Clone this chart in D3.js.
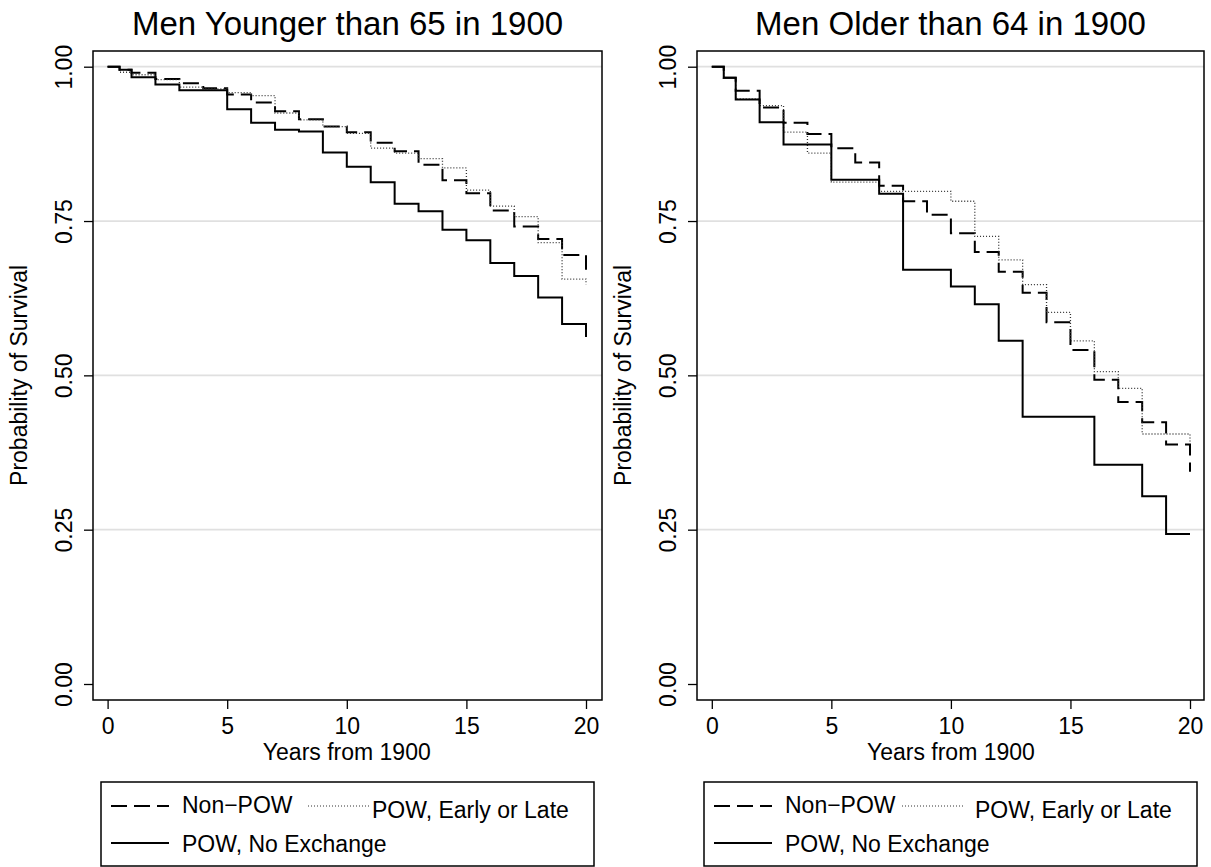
<!DOCTYPE html>
<html>
<head>
<meta charset="utf-8">
<script src="https://cdn.jsdelivr.net/npm/d3@7"></script>
<style>
  body { margin: 0; background: #fff; }
  text { font-family: Arial, "Liberation Sans", Helvetica, sans-serif; fill: #000; }
</style>
</head>
<body>
<div id="container"></div>
<script>
// event times (years from 1900), survival after each time
let years = [0, 0.5, 1, 2, 3, 4, 5, 6, 7, 8, 9, 10, 11, 12, 13, 14, 15, 16, 17, 18, 19, 20];

let youngNonPow       = [1.000, 0.995, 0.990, 0.980, 0.973, 0.965, 0.955, 0.942, 0.928, 0.915, 0.903, 0.894, 0.877, 0.863, 0.841, 0.816, 0.795, 0.767, 0.741, 0.721, 0.695, 0.671];
let youngPowEarlyLate = [1.000, 0.991, 0.987, 0.979, 0.967, 0.964, 0.958, 0.953, 0.925, 0.914, 0.903, 0.892, 0.868, 0.860, 0.851, 0.836, 0.800, 0.774, 0.757, 0.715, 0.656, 0.647];
let youngPowNoExch    = [1.000, 0.995, 0.983, 0.971, 0.962, 0.962, 0.931, 0.909, 0.898, 0.895, 0.861, 0.838, 0.813, 0.778, 0.766, 0.736, 0.719, 0.682, 0.661, 0.626, 0.583, 0.562];

let oldNonPow         = [1.000, 0.982, 0.961, 0.934, 0.909, 0.891, 0.868, 0.845, 0.807, 0.782, 0.760, 0.730, 0.700, 0.668, 0.634, 0.586, 0.541, 0.493, 0.457, 0.424, 0.388, 0.344];
let oldPowEarlyLate   = [1.000, 0.982, 0.948, 0.937, 0.894, 0.860, 0.813, 0.813, 0.798, 0.798, 0.798, 0.782, 0.725, 0.687, 0.647, 0.602, 0.556, 0.506, 0.479, 0.405, 0.405, 0.390];
let oldPowNoExch      = [1.000, 0.982, 0.947, 0.910, 0.874, 0.874, 0.817, 0.817, 0.794, 0.671, 0.671, 0.644, 0.615, 0.556, 0.433, 0.433, 0.433, 0.355, 0.355, 0.304, 0.243, 0.243];

let panelTitles = ["Men Younger than 65 in 1900", "Men Older than 64 in 1900"];
let seriesLabels = ["Non\u2212POW", "POW, Early or Late", "POW, No Exchange"];
let xTicks = [0, 5, 10, 15, 20];
let yTicks = [0, 0.25, 0.5, 0.75, 1];
let xTitle = "Years from 1900";
let yTitle = "Probability of Survival";

let W = 1211, H = 867;
let frameTop = 51, frameBottom = 700;

let svg = d3.select("#container")
            .append("svg")
            .attr("width", W)
            .attr("height", H)
            .style("display", "block")
            .style("background-color", "white");

// non-pow dashed, early/late dotted, no exchange solid
let styles = [
  {stroke: "#000", width: 2, dash: "16,7"},
  {stroke: "#333", width: 1.3, dash: "1,2"},
  {stroke: "#000", width: 2, dash: null}
];

let panels = [
  {title: panelTitles[0], left: 93, right: 602, x0: 107.6, x20: 586,
   series: [youngNonPow, youngPowEarlyLate, youngPowNoExch],
   legend: {x: 101, w: 493, dotX: 308}},
  {title: panelTitles[1], left: 697, right: 1204, x0: 711.8, x20: 1190,
   series: [oldNonPow, oldPowEarlyLate, oldPowNoExch],
   legend: {x: 704, w: 493, dotX: 902}}
];

let yScale = d3.scaleLinear().domain([0, 1]).range([684, 66.7]);

panels.forEach(function(p){
  let xScale = d3.scaleLinear().domain([0, 20]).range([p.x0, p.x20]);
  let g = svg.append("g").attr("class", "panel");

  // gridlines
  g.selectAll(".grid").data(yTicks.filter(d => d > 0)).enter()
    .append("line")
    .attr("class", "grid")
    .attr("x1", p.left).attr("x2", p.right)
    .attr("y1", d => yScale(d)).attr("y2", d => yScale(d))
    .attr("stroke", "#e0e0e0")
    .attr("stroke-width", 1.8);

  // curves
  let line = d3.line()
               .x(d => xScale(d[0]))
               .y(d => yScale(d[1]))
               .curve(d3.curveStepAfter);
  p.series.forEach(function(vals, i){
    let pts = years.map((t, k) => [t, vals[k]]);
    g.append("path")
      .attr("d", line(pts))
      .attr("fill", "none")
      .attr("stroke", styles[i].stroke)
      .attr("stroke-width", styles[i].width)
      .attr("stroke-dasharray", styles[i].dash);
  });

  // frame
  g.append("rect")
    .attr("x", p.left).attr("y", frameTop)
    .attr("width", p.right - p.left).attr("height", frameBottom - frameTop)
    .attr("fill", "none").attr("stroke", "#000").attr("stroke-width", 1.5);

  // y axis
  let yAxis = d3.axisLeft(yScale).tickValues(yTicks).tickFormat(d3.format(".2f")).tickSize(9).tickSizeOuter(0);
  let yg = g.append("g").attr("transform", "translate(" + p.left + ",0)").call(yAxis);
  yg.select(".domain").remove();
  yg.attr("font-family", null).attr("font-size", null);
  yg.selectAll(".tick line").attr("stroke", "#000").attr("stroke-width", 1.3);
  yg.selectAll(".tick text")
    .attr("x", 0).attr("dy", 0)
    .attr("transform", "translate(-21,0) rotate(-90)")
    .attr("text-anchor", "middle")
    .style("font-size", "23px");

  // x axis
  let xAxis = d3.axisBottom(xScale).tickValues(xTicks).tickSize(9).tickSizeOuter(0);
  let xg = g.append("g").attr("transform", "translate(0," + frameBottom + ")").call(xAxis);
  xg.select(".domain").remove();
  xg.attr("font-family", null).attr("font-size", null);
  xg.selectAll(".tick line").attr("stroke", "#000").attr("stroke-width", 1.3);
  xg.selectAll(".tick text")
    .attr("y", 18)
    .style("font-size", "23px");

  // titles
  g.append("text")
    .attr("x", (p.left + p.right) / 2).attr("y", 35)
    .attr("text-anchor", "middle")
    .style("font-size", "33px")
    .text(p.title);
  g.append("text")
    .attr("x", (p.x0 + p.x20) / 2).attr("y", 760)
    .attr("text-anchor", "middle")
    .style("font-size", "23px")
    .text(xTitle);
  g.append("text")
    .attr("transform", "translate(" + (p.left - 66) + "," + yScale(0.5) + ") rotate(-90)")
    .attr("text-anchor", "middle")
    .style("font-size", "23px")
    .text(yTitle);

  // legend
  let L = p.legend;
  let lg = g.append("g").attr("class", "legend");
  lg.append("rect")
    .attr("x", L.x).attr("y", 782)
    .attr("width", L.w).attr("height", 84)
    .attr("fill", "white").attr("stroke", "#000").attr("stroke-width", 1.5);
  let keys = [
    {sx: L.x + 10, len: 58, sy: 806, tx: L.x + 81, ty: 813},
    {sx: L.dotX,   len: 62, sy: 806, tx: L.x + 271, ty: 818},
    {sx: L.x + 10, len: 58, sy: 843, tx: L.x + 81, ty: 852}
  ];
  keys.forEach(function(k, i){
    lg.append("line")
      .attr("x1", k.sx).attr("x2", k.sx + k.len)
      .attr("y1", k.sy).attr("y2", k.sy)
      .attr("stroke", styles[i].stroke)
      .attr("stroke-width", i == 1 ? 1 : styles[i].width)
      .attr("stroke-dasharray", styles[i].dash);
    lg.append("text")
      .attr("x", k.tx).attr("y", k.ty)
      .style("font-size", "23px")
      .text(seriesLabels[i]);
  });
});
</script>
</body>
</html>
